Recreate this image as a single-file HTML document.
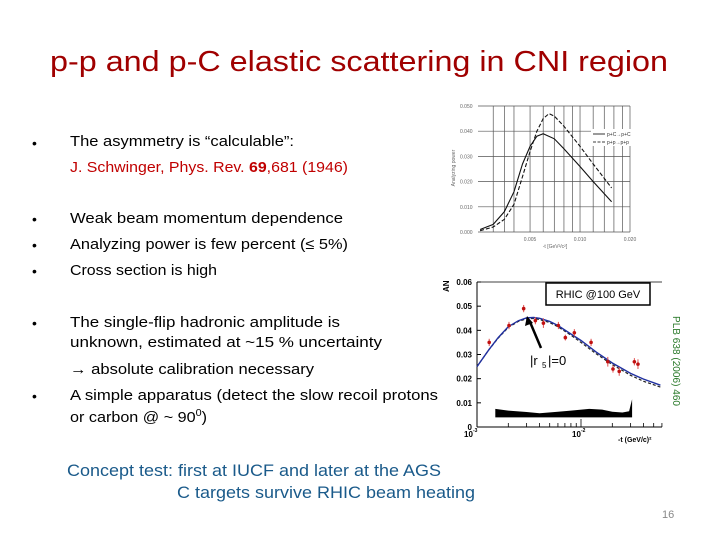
<!DOCTYPE html>
<html><head><meta charset="utf-8"><style>
body{margin:0;background:#fff}
svg{display:block}
text{font-family:"Liberation Sans",sans-serif}
</style></head><body>
<svg id="s" width="720" height="540" viewBox="0 0 720 540" xmlns="http://www.w3.org/2000/svg">
<rect width="720" height="540" fill="#fff"/>
<text x="50" y="71" font-size="29" fill="#a00000" textLength="618" lengthAdjust="spacingAndGlyphs">p-p and p-C elastic scattering in CNI region</text>
<g font-size="15" fill="#000">
<text x="32" y="148" font-size="14">•</text>
<text x="70" y="146" textLength="224" lengthAdjust="spacingAndGlyphs">The asymmetry is “calculable”:</text>
<text x="70" y="172" fill="#c00000" textLength="278" lengthAdjust="spacingAndGlyphs">J. Schwinger, Phys. Rev. <tspan font-weight="bold">69</tspan>,681 (1946)</text>
<text x="32" y="224" font-size="14">•</text>
<text x="70" y="223" textLength="273" lengthAdjust="spacingAndGlyphs">Weak beam momentum dependence</text>
<text x="32" y="250" font-size="14">•</text>
<text x="70" y="249" textLength="278" lengthAdjust="spacingAndGlyphs">Analyzing power is few percent (≤ 5%)</text>
<text x="32" y="276" font-size="14">•</text>
<text x="70" y="275" textLength="147" lengthAdjust="spacingAndGlyphs">Cross section is high</text>
<text x="32" y="328" font-size="14">•</text>
<text x="70" y="327" textLength="270" lengthAdjust="spacingAndGlyphs">The single-flip hadronic amplitude  is</text>
<text x="70" y="347" textLength="312" lengthAdjust="spacingAndGlyphs">unknown, estimated at ~15 % uncertainty</text>
<text x="70" y="374" textLength="244" lengthAdjust="spacingAndGlyphs">→ absolute calibration necessary</text>
<text x="32" y="401" font-size="14">•</text>
<text x="70" y="400" textLength="368" lengthAdjust="spacingAndGlyphs">A simple apparatus (detect the slow recoil protons</text>
<text x="70" y="422" textLength="137" lengthAdjust="spacingAndGlyphs">or carbon @ ~ 90<tspan font-size="10" dy="-6">0</tspan><tspan dy="6">)</tspan></text>
</g>
<text x="67" y="476" font-size="17" fill="#1a5a8a" textLength="374" lengthAdjust="spacingAndGlyphs">Concept test: first at IUCF and later at the AGS</text>
<text x="177" y="498" font-size="17" fill="#1a5a8a" textLength="298" lengthAdjust="spacingAndGlyphs">C targets survive RHIC beam heating</text>
<text x="662" y="518" font-size="11" fill="#888">16</text>
<g id="topchart"></g>
<g id="botchart"></g>
</svg>
<script>
// ---- top chart data ----
const topSolidT=[0.0025,0.003,0.0035,0.004,0.0045,0.005,0.0055,0.006,0.007,0.008,0.01,0.012,0.0155];
const topSolidV=[0.001,0.003,0.008,0.016,0.027,0.034,0.038,0.039,0.037,0.033,0.026,0.020,0.012];
const topDashT=[0.0025,0.003,0.0035,0.004,0.0045,0.005,0.0055,0.006,0.0065,0.007,0.008,0.01,0.012,0.0155];
const topDashV=[0.0005,0.002,0.005,0.011,0.022,0.032,0.040,0.045,0.047,0.046,0.042,0.034,0.027,0.0175];
const topYTicks=[0,0.01,0.02,0.03,0.04,0.05];
const topXTicks=[0.005,0.01,0.02];
const topXGrid=[0.003,0.0035,0.004,0.006,0.007,0.008,0.009,0.012,0.014,0.016,0.018];
// ---- bottom chart data ----
const botT=[0.00131,0.00203,0.00281,0.00364,0.00435,0.00606,0.00707,0.00863,0.0125,0.0181,0.0203,0.0233,0.0326,0.0353];
const botA=[0.035,0.042,0.049,0.044,0.043,0.042,0.037,0.039,0.035,0.027,0.024,0.023,0.027,0.026];
const botErr=[0.0015,0.0015,0.0015,0.0015,0.002,0.0015,0.0012,0.0015,0.0015,0.002,0.0015,0.0018,0.0015,0.002];
const curveT=[0.001,0.0013,0.0016,0.002,0.0025,0.003,0.0035,0.004,0.005,0.006,0.008,0.01,0.014,0.02,0.03,0.04,0.058];
const curveBlue=[0.025,0.032,0.037,0.0415,0.044,0.0452,0.0453,0.045,0.0437,0.042,0.0385,0.0358,0.031,0.0265,0.0222,0.0198,0.0173];
const curveDash=[0.025,0.032,0.0368,0.0412,0.0437,0.0448,0.0449,0.0445,0.0432,0.0415,0.038,0.035,0.0303,0.0258,0.0214,0.0189,0.0165];
const bandT=[0.0015,0.002,0.003,0.004,0.006,0.008,0.012,0.016,0.02,0.025,0.029,0.031];
const bandV=[0.0075,0.0068,0.0062,0.0057,0.0063,0.0068,0.0075,0.0072,0.0063,0.006,0.0065,0.0115];
const botYTicks=[0,0.01,0.02,0.03,0.04,0.05,0.06];

const NS="http://www.w3.org/2000/svg";
function mk(p,tag,at,txt){const e=document.createElementNS(NS,tag);for(const k in at)e.setAttribute(k,at[k]);if(txt!==undefined)e.textContent=txt;p.appendChild(e);return e;}
function pts(T,V,fx,fy){return T.map((t,i)=>fx(t).toFixed(1)+','+fy(V[i]).toFixed(1)).join(' ');}

// top axes
const tx=t=>630+166*(Math.log10(t)-Math.log10(0.02));
const ty=v=>232-v/0.05*126;
const topG=document.getElementById('topchart');
let e;
topXGrid.concat(topXTicks).forEach(t=>{e=mk(topG,'line',{x1:tx(t),x2:tx(t),y1:ty(0.05),y2:ty(0),stroke:'#555','stroke-width':0.7});

});
topYTicks.forEach(v=>{e=mk(topG,'line',{x1:478,x2:630,y1:ty(v),y2:ty(v),stroke:'#555','stroke-width':0.7});


e=mk(topG,'text',{x:460,y:ty(v)+2,'font-size':5,fill:'#666'},v.toFixed(3));

});
topXTicks.forEach(t=>{e=mk(topG,'text',{x:tx(t),y:241,'font-size':5,fill:'#666','text-anchor':'middle'},t.toFixed(3));

});
e=mk(topG,'text',{x:555,y:248,'font-size':5,fill:'#666','text-anchor':'middle'},'-t [GeV²/c²]');


e=mk(topG,'text',{x:0,y:0,'font-size':5,fill:'#666','text-anchor':'middle',transform:'translate(455,168) rotate(-90)'},'Analyzing power');


e=mk(topG,'polyline',{points:pts(topSolidT,topSolidV,tx,ty),fill:'none',stroke:'#111','stroke-width':1.1});


e=mk(topG,'polyline',{points:pts(topDashT,topDashV,tx,ty),fill:'none',stroke:'#111','stroke-width':1.1,'stroke-dasharray':'4,2'});


e=mk(topG,'rect',{x:591,y:129,width:48,height:17,fill:'#fff'});


mk(topG,'line',{x1:593,x2:605,y1:134,y2:134,stroke:'#000','stroke-width':0.8});
mk(topG,'line',{x1:593,x2:605,y1:142,y2:142,stroke:'#000','stroke-width':0.8,'stroke-dasharray':'3,1.5'});
e=mk(topG,'text',{x:607,y:136,'font-size':5,fill:'#333'},'p+C→p+C');


e=mk(topG,'text',{x:607,y:144,'font-size':5,fill:'#333'},'p+p→p+p');



// bottom chart
const bx=t=>477+104*(Math.log10(t)+3);
const by=v=>427-v/0.06*145;
const botG=document.getElementById('botchart');
e=mk(botG,'line',{x1:477,x2:477,y1:282,y2:427,stroke:'#000','stroke-width':1});


e=mk(botG,'line',{x1:477,x2:662,y1:427,y2:427,stroke:'#000','stroke-width':1});


mk(botG,'line',{x1:477,x2:662,y1:282,y2:282,stroke:'#000','stroke-width':0.8});
botYTicks.forEach(v=>{mk(botG,'line',{x1:477,x2:481,y1:by(v),y2:by(v),stroke:'#000'});
e=mk(botG,'text',{x:472,y:by(v)+3,'font-size':8,'font-weight':'bold','text-anchor':'end',fill:'#000'},v===0?'0':v.toFixed(2));

});
for(let dd=-3;dd<=-2;dd++)for(let m=1;m<10;m++){const t=m*Math.pow(10,dd);if(bx(t)>662)break;mk(botG,'line',{x1:bx(t),x2:bx(t),y1:427,y2:m===1?419:423,stroke:'#000','stroke-width':0.8});}
e=mk(botG,'text',{x:464,y:437,'font-size':8,'font-weight':'bold'},'10');


mk(botG,'text',{x:473,y:432,'font-size':5,'font-weight':'bold'},'-3');
e=mk(botG,'text',{x:572,y:437,'font-size':8,'font-weight':'bold'},'10');


mk(botG,'text',{x:581,y:432,'font-size':5,'font-weight':'bold'},'-2');
e=mk(botG,'text',{x:618,y:442,'font-size':7,'font-weight':'bold'},'-t (GeV/c)²');


e=mk(botG,'text',{x:0,y:0,'font-size':8,'font-weight':'bold',transform:'translate(449,292) rotate(-90)'},'AN');


let d='M'+bx(bandT[0])+','+by(0.004)+' '+bandT.map((t,i)=>'L'+bx(t).toFixed(1)+','+by(bandV[i]).toFixed(1)).join(' ')+' L'+bx(bandT[bandT.length-1])+','+by(0.004)+'Z';
e=mk(botG,'path',{d:d,fill:'#000'});


e=mk(botG,'polyline',{points:pts(curveT,curveDash,bx,by),fill:'none',stroke:'#222','stroke-width':1.2,'stroke-dasharray':'3,2'});


e=mk(botG,'polyline',{points:pts(curveT,curveBlue,bx,by),fill:'none',stroke:'#2030a0','stroke-width':1.4});


botT.forEach((t,i)=>{const x=bx(t);
e=mk(botG,'line',{x1:x,x2:x,y1:by(botA[i]-botErr[i]),y2:by(botA[i]+botErr[i]),stroke:'#e05050','stroke-width':1});


e=mk(botG,'circle',{cx:x,cy:by(botA[i]),r:1.8,fill:'#c01010'});

});
e=mk(botG,'line',{x1:541,y1:348,x2:530,y2:322,stroke:'#000','stroke-width':2.5});


mk(botG,'polygon',{points:'527,316 525,326 533,323',fill:'#000'});
e=mk(botG,'text',{x:530,y:365,'font-size':13},'|r');


mk(botG,'text',{x:542,y:368,'font-size':8},'5');
mk(botG,'text',{x:548,y:365,'font-size':13},'|=0');
e=mk(botG,'rect',{x:546,y:283,width:104,height:22,fill:'#fff',stroke:'#000','stroke-width':1.5});


e=mk(botG,'text',{x:598,y:298,'font-size':11,'text-anchor':'middle'},'RHIC @100 GeV');


e=mk(botG,'text',{x:0,y:0,'font-size':10,fill:'#2a7a2a',transform:'translate(673,316) rotate(90)',textLength:90,lengthAdjust:'spacingAndGlyphs'},'PLB 638 (2006) 460');


</script>
</body></html>
